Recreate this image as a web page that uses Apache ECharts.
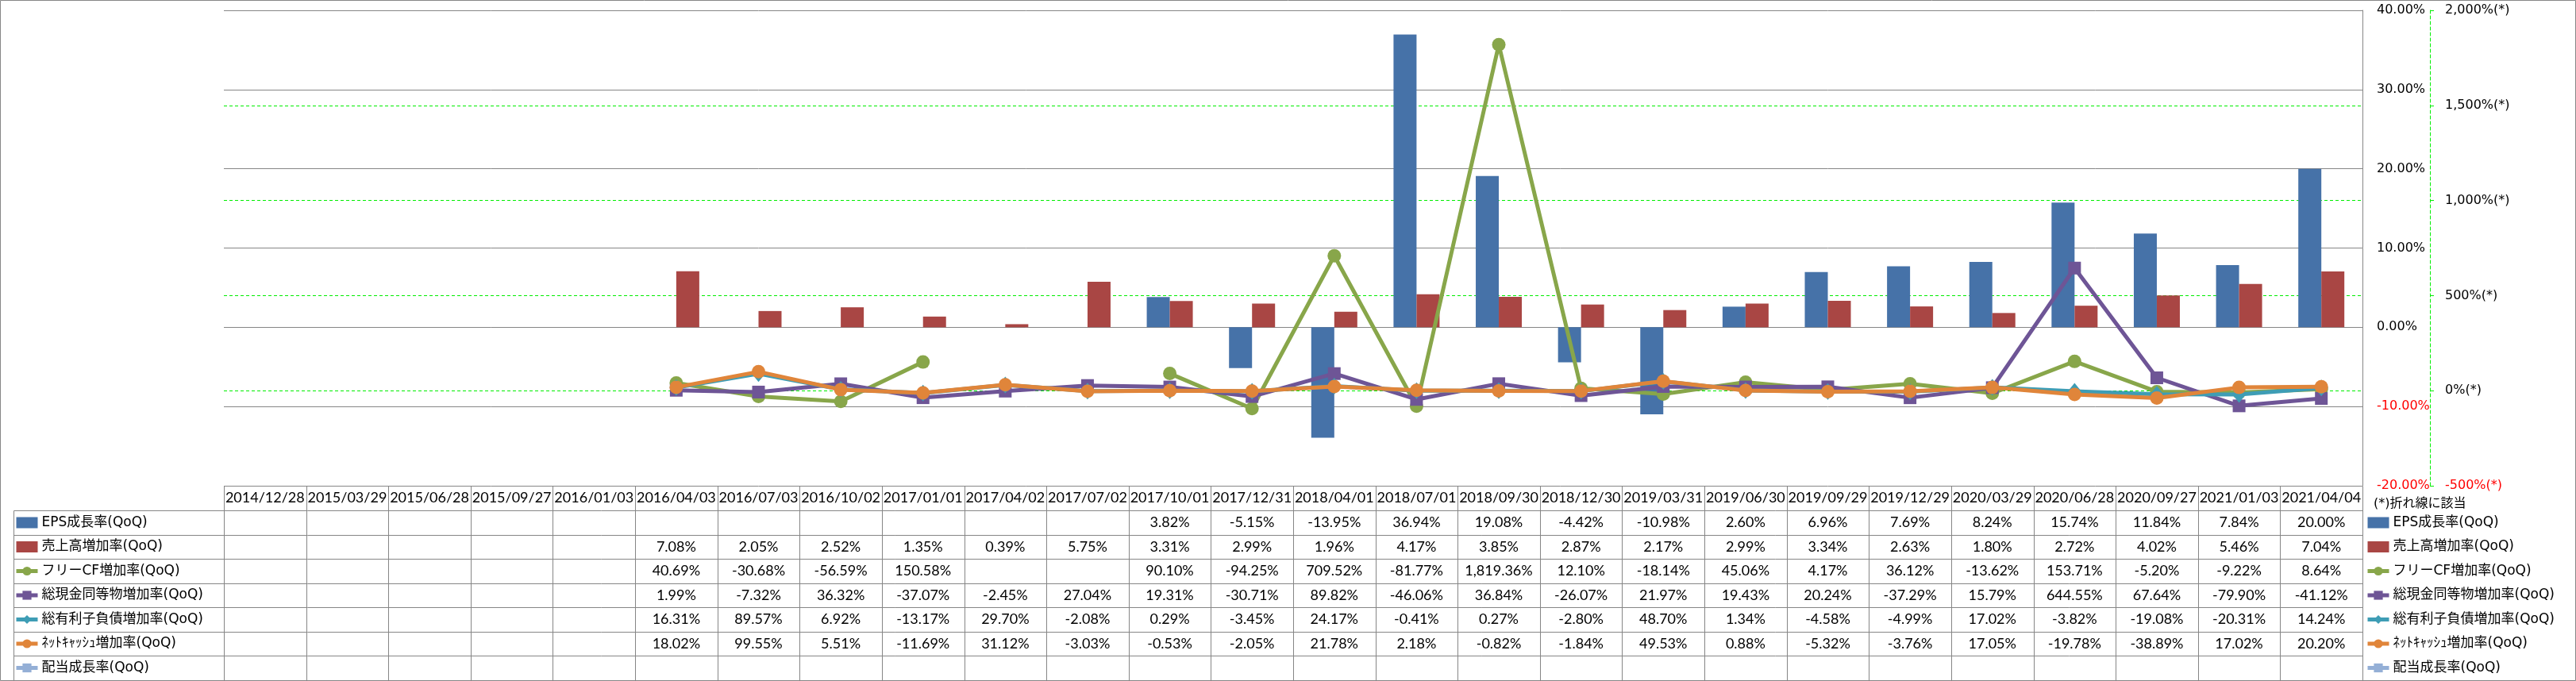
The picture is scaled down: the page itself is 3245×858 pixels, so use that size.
<!DOCTYPE html>
<html><head><meta charset="utf-8">
<script src="https://cdn.jsdelivr.net/npm/echarts@6/dist/echarts.min.js"></script>
<style>html,body{margin:0;padding:0;background:#fff}#c{width:3245px;height:858px}</style>
</head><body><div id="c"></div>
<script>
const categories = ['2014/12/28','2015/03/29','2015/06/28','2015/09/27','2016/01/03','2016/04/03','2016/07/03','2016/10/02','2017/01/01','2017/04/02','2017/07/02','2017/10/01','2017/12/31','2018/04/01','2018/07/01','2018/09/30','2018/12/30','2019/03/31','2019/06/30','2019/09/29','2019/12/29','2020/03/29','2020/06/28','2020/09/27','2021/01/03','2021/04/04'];
const N = null;
const epsGrowth     = [N,N,N,N,N,N,N,N,N,N,N,3.82,-5.15,-13.95,36.94,19.08,-4.42,-10.98,2.60,6.96,7.69,8.24,15.74,11.84,7.84,20.00];
const salesGrowth   = [N,N,N,N,N,7.08,2.05,2.52,1.35,0.39,5.75,3.31,2.99,1.96,4.17,3.85,2.87,2.17,2.99,3.34,2.63,1.80,2.72,4.02,5.46,7.04];
const fcfGrowth     = [N,N,N,N,N,40.69,-30.68,-56.59,150.58,N,N,90.10,-94.25,709.52,-81.77,1819.36,12.10,-18.14,45.06,4.17,36.12,-13.62,153.71,-5.20,-9.22,8.64];
const cashGrowth    = [N,N,N,N,N,1.99,-7.32,36.32,-37.07,-2.45,27.04,19.31,-30.71,89.82,-46.06,36.84,-26.07,21.97,19.43,20.24,-37.29,15.79,644.55,67.64,-79.90,-41.12];
const debtGrowth    = [N,N,N,N,N,16.31,89.57,6.92,-13.17,29.70,-2.08,0.29,-3.45,24.17,-0.41,0.27,-2.80,48.70,1.34,-4.58,-4.99,17.02,-3.82,-19.08,-20.31,14.24];
const netCashGrowth = [N,N,N,N,N,18.02,99.55,5.51,-11.69,31.12,-3.03,-0.53,-2.05,21.78,2.18,-0.82,-1.84,49.53,0.88,-5.32,-3.76,17.05,-19.78,-38.89,17.02,20.20];
const dividendGrowth = [N,N,N,N,N,N,N,N,N,N,N,N,N,N,N,N,N,N,N,N,N,N,N,N,N,N];
const seriesNames = ['EPS成長率(QoQ)','売上高増加率(QoQ)','フリーCF増加率(QoQ)','総現金同等物増加率(QoQ)','総有利子負債増加率(QoQ)','ﾈｯﾄｷｬｯｼｭ増加率(QoQ)','配当成長率(QoQ)'];
const primaryTicks = [-20,-10,0,10,20,30,40];
const secondaryTicks = [-500,0,500,1000,1500,2000];
const footnote = '(*)折れ線に該当';

const LEG_FONT = '"DejaVu Sans","Noto Sans CJK JP",sans-serif';
const TAB_FONT = 'Lato,"Noto Sans",sans-serif';
const AX_FONT = '"DejaVu Sans",sans-serif';
const GRAY = '#868686';
const colors = ['#4672A8','#A94644','#88A64A','#6E5596','#3E9DB5','#E0853A','#94AFD6'];
const symbols = [null,null,'circle','rect','diamond','circle','rect'];
const symSizes = [0,0,17,[16,16],[17,21],17,[16,16]];
const allData = [epsGrowth,salesGrowth,fcfGrowth,cashGrowth,debtGrowth,netCashGrowth,dividendGrowth];

const series = allData.map((d,i)=>{
  if (i < 2) return {name:seriesNames[i],type:'bar',data:d,barWidth:29,barGap:'0%',
      itemStyle:{color:colors[i]},z:2};
  return {name:seriesNames[i],type:'line',yAxisIndex:1,data:d,symbol:symbols[i],symbolSize:symSizes[i],
      showAllSymbol:true,connectNulls:false,lineStyle:{width:5,color:colors[i]},itemStyle:{color:colors[i]},z:3+i};
});

const legendData = seriesNames.map((n,i)=> i<2 ? {name:n,icon:'rect'} : {name:n});
const legendBase = {orient:'vertical',top:648.5,padding:0,itemWidth:27,itemHeight:14,itemGap:10.5,
  lineStyle:{width:5},
  textStyle:{fontFamily:LEG_FONT,fontSize:17,lineHeight:20,color:'#000',padding:[0,0,0,0]},data:legendData,selectedMode:false};

const option = {
  animation:false,
  backgroundColor:'#fff',
  grid:{left:282,right:269,top:13,bottom:246,containLabel:false},
  legend:[Object.assign({left:18},legendBase),Object.assign({left:2980},legendBase)],
  xAxis:{type:'category',data:categories,axisLine:{show:false},axisTick:{show:false},splitLine:{show:false},
    axisLabel:{interval:0,margin:15,verticalAlign:'middle',fontFamily:TAB_FONT,fontSize:18,color:'#000'}},
  yAxis:[
    {type:'value',position:'right',min:primaryTicks[0],max:primaryTicks[primaryTicks.length-1],interval:primaryTicks[1]-primaryTicks[0],
     axisLine:{show:true,lineStyle:{color:GRAY,width:1}},axisTick:{show:false},
     splitLine:{show:true,lineStyle:{color:GRAY,width:1}},
     axisLabel:{margin:18,formatter:v=> (v<0?'{n|':'{p|')+v.toFixed(2)+'%}',
       rich:{p:{color:'#000',fontFamily:AX_FONT,fontSize:16},n:{color:'#f00',fontFamily:AX_FONT,fontSize:16}}}},
    {type:'value',position:'right',offset:85,min:secondaryTicks[0],max:secondaryTicks[secondaryTicks.length-1],interval:secondaryTicks[1]-secondaryTicks[0],
     axisLine:{show:true,lineStyle:{color:'#00ee00',width:1,type:[4,3]}},
     axisTick:{show:true,inside:false,length:5,lineStyle:{color:'#00ee00'}},
     splitLine:{show:true,showMinLine:false,showMaxLine:false,lineStyle:{color:'#00ee00',width:1,type:[4,3]}},
     axisLabel:{margin:19,formatter:v=> (v<0?'{n|':'{p|')+v.toLocaleString('en-US')+'%(*)}',
       rich:{p:{color:'#000',fontFamily:AX_FONT,fontSize:16},n:{color:'#f00',fontFamily:AX_FONT,fontSize:16}}}}
  ],
  series:series
};

const chart = echarts.init(document.getElementById('c'),null,{renderer:'canvas'});
chart.setOption(option);

// data table under the plot, positioned from the category axis scale
const c0 = chart.convertToPixel({xAxisIndex:0},categories[0]);
const c1 = chart.convertToPixel({xAxisIndex:0},categories[1]);
const band = c1-c0;
const tLeftData = c0-band/2;
const tRight = tLeftData+band*categories.length;
const headTop = chart.convertToPixel({yAxisIndex:0},primaryTicks[0]);
const headBottom = headTop+31.3;
const rowH = 30.5;
const tableLeft = 17;
const tBottom = headBottom+rowH*allData.length;
const px = v=>Math.round(v)+0.5;
const g = [];
const lineStyle = {stroke:GRAY,lineWidth:1};
for (let k=0;k<=categories.length;k++){
  const x = px(tLeftData+k*band);
  g.push({type:'line',shape:{x1:x,y1:px(headTop),x2:x,y2:px(tBottom)},style:lineStyle,silent:true});
}
for (let r=0;r<=allData.length;r++){
  const y = px(headBottom+r*rowH);
  g.push({type:'line',shape:{x1:tableLeft+0.5,y1:y,x2:px(tRight),y2:y},style:lineStyle,silent:true});
}
g.push({type:'line',shape:{x1:tableLeft+0.5,y1:px(headBottom),x2:tableLeft+0.5,y2:px(tBottom)},style:lineStyle,silent:true});
const fmt = v=>v.toLocaleString('en-US',{minimumFractionDigits:2,maximumFractionDigits:2})+'%';
allData.forEach((d,r)=>{
  d.forEach((v,i)=>{
    if (v===null) return;
    g.push({type:'text',silent:true,style:{text:fmt(v),x:chart.convertToPixel({xAxisIndex:0},categories[i]),
      y:headBottom+rowH*(r+0.5),align:'center',verticalAlign:'middle',fontFamily:TAB_FONT,fontSize:18,fill:'#000'}});
  });
});
g.push({type:'text',silent:true,style:{text:footnote,x:2990,y:635,align:'left',verticalAlign:'middle',fontFamily:LEG_FONT,fontSize:16,fill:'#000'}});
g.push({type:'rect',silent:true,shape:{x:0.5,y:0.5,width:3244,height:857},style:{fill:'none',stroke:GRAY,lineWidth:1}});
chart.setOption({graphic:g});
</script></body></html>
